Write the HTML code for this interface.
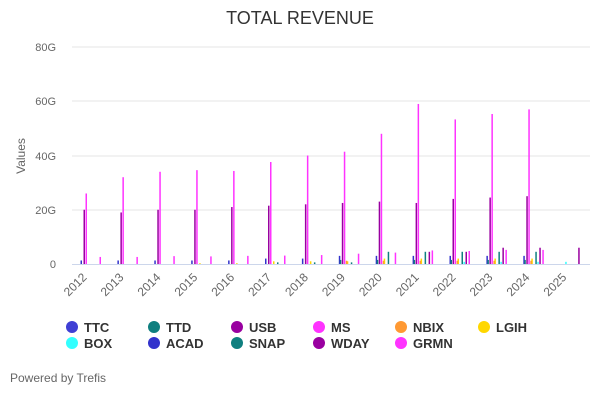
<!DOCTYPE html><html><head><style>body{margin:0;background:#fff;font-family:"Liberation Sans",sans-serif}</style></head><body>
<svg id="s" width="600" height="400" xmlns="http://www.w3.org/2000/svg" font-family="Liberation Sans, sans-serif">
<text x="300" y="24" text-anchor="middle" font-size="18" fill="#333">TOTAL REVENUE</text>
<g stroke="#e6e6e6"><line x1="72" x2="590" y1="47" y2="47"/><line x1="72" x2="590" y1="101" y2="101"/><line x1="72" x2="590" y1="156" y2="156"/><line x1="72" x2="590" y1="210" y2="210"/></g>
<line x1="72" x2="590" y1="264.5" y2="264.5" stroke="#ccd6eb"/>
<g font-size="11" fill="#666" text-anchor="end"><text x="56" y="51">80G</text><text x="56" y="105">60G</text><text x="56" y="160">40G</text><text x="56" y="214">20G</text><text x="56" y="268">0</text></g>
<text transform="translate(25,156) rotate(-90)" text-anchor="middle" font-size="12" fill="#666">Values</text>
<g id="b"></g><g id="l" font-size="12" fill="#666"></g>
<g font-size="13" font-weight="bold" fill="#333">
<circle cx="72" cy="327" r="6" fill="#3f3fd4"/><text x="84" y="332">TTC</text>
<circle cx="154" cy="327" r="6" fill="#0f7f7f"/><text x="166" y="332">TTD</text>
<circle cx="237" cy="327" r="6" fill="#9900a0"/><text x="249" y="332">USB</text>
<circle cx="319" cy="327" r="6" fill="#ff33ff"/><text x="331" y="332">MS</text>
<circle cx="401" cy="327" r="6" fill="#ff9933"/><text x="413" y="332">NBIX</text>
<circle cx="484" cy="327" r="6" fill="#ffd700"/><text x="496" y="332">LGIH</text>
<circle cx="72" cy="343" r="6" fill="#33ffff"/><text x="84" y="348">BOX</text>
<circle cx="154" cy="343" r="6" fill="#3333cc"/><text x="166" y="348">ACAD</text>
<circle cx="237" cy="343" r="6" fill="#0f7f7f"/><text x="249" y="348">SNAP</text>
<circle cx="319" cy="343" r="6" fill="#9900a0"/><text x="331" y="348">WDAY</text>
<circle cx="401" cy="343" r="6" fill="#ff33ff"/><text x="413" y="348">GRMN</text>
</g>
<text x="10" y="382" font-size="12" fill="#666">Powered by Trefis</text>
</svg>
<script>
var b=document.getElementById('b'),l=document.getElementById('l'),h='',t='';
var ms=[26,32,34,34.6,34.3,37.6,40,41.4,48,59,53.3,55.3,57,0];
var usb=[20,19,20,20,21,21.5,22,22.5,23,22.5,24,24.5,25,0];
var gr=[2.6,2.6,2.9,2.8,3,3.1,3.3,3.8,4.2,5,4.8,5.2,5.2,0];
var wd=[0,0,0,0,0,0,0,0,0,4.5,4.5,6,6,6];
function r(x,v,c,w){if(v<=0)return;var hh=v*2.7125;h+='<rect x="'+x+'" y="'+(264-hh)+'" width="'+(w||1.5)+'" height="'+hh+'" fill="'+c+'"/>';}
for(var i=0;i<14;i++){var x=80.5+i*36.9;
if(i<13){r(x,i<5?1.3:(i<7?2:3),'#3333cc');r(x+3,usb[i],'#9900a0');r(x+5,ms[i],'#ff33ff');}
if(i>=3&&i<13)r(x+8,i<5?0.3:(i<8?1:2),'#ffd700');
if(i>=5&&i<13)r(x+12,i<8?0.6:4.5,'#0f7f7f');
if(i>=10)r(x+14+(i==13?-9:0),0.8,'#33ffff');
r(x+(i==13?18:16),wd[i],'#9900a0');
if(i<13)r(x+19,gr[i],'#ff33ff');
if(i>=7&&i<13){r(x+1,1.5,'#0f7f7f');r(x+7,1.2,'#ff9933');}
var lx=x+4,yr=2012+i;t+='<text transform="translate('+(lx+3)+',278) rotate(-45)" text-anchor="end">'+yr+'</text>';}
b.innerHTML=h;l.innerHTML=t;
</script></body></html>
